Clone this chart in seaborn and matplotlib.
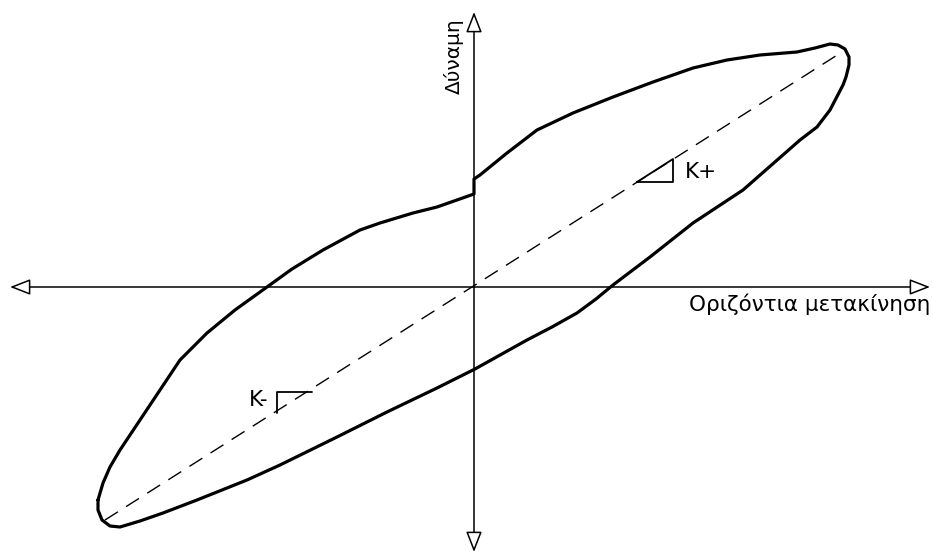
import numpy as np
import pandas as pd
import matplotlib
matplotlib.use("Agg")
import matplotlib.pyplot as plt
import seaborn as sns
from matplotlib.patches import FancyArrowPatch

# Hysteresis loop (displacement, force)
loop_x = [-37.6, -37.1, -36.4, -35.4, -33.4, -31.4, -29.4, -26.7, -23.9, -20.7, -18.2, -15.1,
          -11.4, -9.4, -6.1, -3.7, 0.0,
          0.0, 0.6, 3.3, 6.3, 9.9, 13.9, 17.9, 21.9, 25.3, 28.6, 32.3, 34.1, 35.6, 36.4, 37.1,
          37.5, 37.5, 37.2, 36.9, 35.6, 34.3, 32.6,
          26.9, 21.9, 17.6, 13.9, 12.2, 10.3, 7.8, 5.3, 0.1, -3.7, -8.7, -13.7, -19.4, -22.7, -27.7,
          -31.1, -33.4, -35.4, -36.4, -37.2, -37.6, -37.6]
loop_y = [-21.3, -19.6, -18.0, -16.3, -13.3, -10.3, -7.3, -4.6, -2.3, 0.0, 1.8, 3.7,
          5.7, 6.4, 7.4, 8.0, 9.3,
          10.8, 11.2, 13.4, 15.7, 17.4, 19.0, 20.5, 21.9, 22.7, 23.2, 23.5, 23.9, 24.3, 24.2, 23.8,
          23.0, 22.2, 21.0, 20.2, 17.7, 16.0, 14.7,
          9.7, 6.4, 3.0, 0.2, -1.2, -2.6, -4.0, -5.3, -8.2, -10.1, -12.5, -15.0, -17.8, -19.3, -21.3,
          -22.6, -23.4, -24.0, -23.9, -23.3, -22.3, -21.3]

# secant stiffness line
secant_x = [-36.9, 36.8]
secant_y = [-23.3, 23.5]

# slope triangles
kplus_x = [16.3, 19.9, 19.9, 16.3]
kplus_y = [10.5, 12.8, 10.5, 10.5]
kminus_x = [-16.2, -19.7, -19.7]
kminus_y = [-10.5, -10.5, -12.6]

x_label = "Οριζόντια μετακίνηση"
y_label = "Δύναμη"

sns.set_theme(style="white")
plt.rcParams['font.family'] = ['DejaVu Sans']

fig = plt.figure(figsize=(9.33, 5.56), dpi=100)
ax = fig.add_axes([0, 0, 1, 1])
ax.set_xlim(-47.4, 45.9)
ax.set_ylim(-26.9, 28.7)
ax.axis("off")

df = pd.DataFrame({"x": loop_x, "y": loop_y})
sns.lineplot(data=df, x="x", y="y", sort=False, estimator=None, color="black",
             linewidth=2.3, ax=ax)
ax.lines[-1].set_solid_joinstyle("round")

sns.lineplot(x=secant_x, y=secant_y, color="black", linewidth=1.0, ax=ax)
ax.lines[-1].set_dashes([11, 7])

sns.lineplot(x=kplus_x, y=kplus_y, sort=False, estimator=None, color="black", linewidth=1.3, ax=ax)
sns.lineplot(x=kminus_x, y=kminus_y, sort=False, estimator=None, color="black", linewidth=1.3, ax=ax)

# axes with hollow arrow heads
for (p0, p1) in [((-46.4, 0.0), (45.6, 0.0)), ((0.0, -26.5), (0.0, 27.5))]:
    arr = FancyArrowPatch(p0, p1, arrowstyle="<|-|>,head_length=0.9,head_width=0.35",
                          mutation_scale=14, linewidth=1.1, edgecolor="black",
                          facecolor="white", shrinkA=0, shrinkB=0)
    ax.add_patch(arr)

ax.text(45.6, -1.7, x_label, ha="right", va="center", fontsize=15.5, color="black")
ax.text(-2.0, 23.1, y_label, ha="center", va="center", rotation=90, fontsize=14.5, color="black")
ax.text(21.1, 11.5, "K+", ha="left", va="center", fontsize=15.5, color="black")
ax.text(-21.5, -11.3, "K-", ha="center", va="center", fontsize=15.5, color="black")

fig.savefig("out.png", dpi=100)
